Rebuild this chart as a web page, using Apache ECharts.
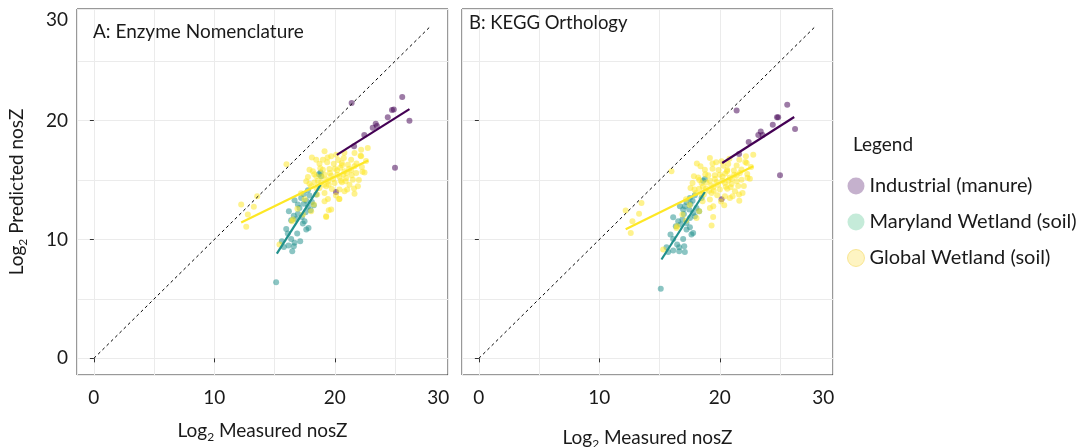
<!DOCTYPE html>
<html>
<head>
<meta charset="utf-8">
<script src="https://cdn.jsdelivr.net/npm/echarts@6/dist/echarts.min.js"></script>
<style>
  html, body { margin: 0; padding: 0; background: #ffffff; }
  #chart { width: 1076px; height: 447px; }
</style>
</head>
<body>
<div id="chart"></div>
<script>
// ---- Data: log2 measured vs predicted nosZ, two annotation schemes ----
const seriesNames = ['Industrial (manure)', 'Maryland Wetland (soil)', 'Global Wetland (soil)'];

// Panel A: Enzyme Nomenclature
const industrialA = [[21.4,21.5],[25.6,22.0],[24.9,20.95],[24.75,20.9],[24.4,20.3],[26.2,20.0],[23.4,19.75],[23.15,19.4],[23.5,19.55],[22.45,18.8],[21.6,17.85],[20.1,14.0],[25.0,16.05]];
const marylandA = [[18.82,15.65],[18.68,15.5],[18.87,15.32],[17.77,14.14],[17.43,13.83],[17.9,13.7],[18.46,13.78],[17.21,13.5],[17.63,13.27],[16.66,13.3],[18.1,13.16],[17.43,13.02],[16.94,12.94],[18.26,12.88],[17.77,12.74],[17.07,12.66],[17.99,12.46],[17.57,12.29],[16.19,12.38],[16.94,12.18],[16.6,12.01],[17.27,11.9],[16.38,11.62],[16.8,11.73],[17.49,11.54],[17.35,11.34],[17.82,10.98],[17.63,10.84],[15.97,10.89],[16.1,10.5],[16.88,10.5],[16.38,10.05],[17.13,9.86],[16.66,9.72],[15.61,9.86],[15.77,9.38],[16.16,9.49],[16.6,9.44],[16.47,9.02],[15.13,6.41]];
const globalA = [[12.23,12.94],[12.78,12.1],[13.28,12.75],[13.56,13.64],[12.65,11.07],[15.99,16.33],[19.28,11.96],[19.5,12.46],[22.74,17.7],[22.19,17.0],[19.15,17.42],[15.41,9.58],[20.36,13.42],
  [20.12,17.14],[21.64,17.28],[22.19,17.56],[20.75,16.86],[21.36,16.72],[22.14,17.06],[18.46,16.72],[18.73,16.38],[19.37,16.5],[19.92,16.38],[20.59,16.44],[21.09,16.3],[21.64,16.16],[22.25,16.1],[17.9,15.88],[18.18,15.74],[19.01,15.88],[19.56,15.94],[20.2,15.82],[20.81,15.74],[21.36,15.82],[21.78,15.6],[22.47,15.65],[17.77,15.26],[18.46,15.32],[19.15,15.46],[19.7,15.37],[20.39,15.26],[20.95,15.18],[21.5,15.04],[17.63,14.9],[18.32,14.81],[18.87,14.81],[19.43,14.9],[19.98,14.76],[20.59,14.81],[21.22,14.62],[21.92,14.48],[18.04,14.48],[18.73,14.34],[19.29,14.48],[19.76,14.25],[20.39,14.2],[21.03,14.2],[19.15,13.92],[18.54,13.78],[20.81,14.06],[21.64,13.86],[19.43,13.41],[20.39,13.41],[19.15,13.22],[18.26,12.94],[18.04,12.38],[19.7,12.52],[19.29,11.9],[16.52,11.68],[16.44,11.54],[17.35,12.1],[19.01,16.72],
  [19.6,15.6],[20.0,15.95],[20.45,16.05],[20.7,15.45],[19.85,15.1],[20.2,15.45],[20.5,14.95],[19.3,15.05],[21.2,15.95],[21.0,15.6],[20.6,16.25],[19.5,14.6],[18.9,15.3],[18.6,14.95],[19.1,14.6],[20.9,14.9],[21.4,15.4],[21.8,16.4],[22.0,15.0],[20.3,16.7],[19.7,17.0],[18.8,16.0],[18.3,15.5],[17.9,14.7],[18.5,14.3],[17.2,13.9],[21.6,14.3],[22.3,15.7],[20.1,13.7],[19.4,16.9],[20.8,17.3],[18.1,16.9],[22.6,16.6],[17.5,13.4],[16.9,12.6]];
const fitIndustrialA = [[20.17,17.12],[26.2,20.98]];
const fitMarylandA = [[15.19,8.82],[18.82,14.6]];
const fitGlobalA = [[12.23,11.43],[22.77,16.66]];

// Panel B: KEGG Orthology
const industrialB = [[21.4,20.85],[25.6,21.35],[24.85,20.3],[24.75,20.3],[24.4,19.65],[26.25,19.3],[23.4,19.1],[23.2,18.8],[23.55,18.8],[22.4,18.2],[21.6,17.2],[20.15,13.4],[25.0,15.4]];
const marylandB = [[18.76,15.1],[18.62,14.95],[17.93,13.72],[18.49,13.5],[17.52,13.5],[17.74,13.27],[17.24,13.16],[17.57,12.99],[16.69,12.8],[17.1,12.8],[18.07,12.66],[16.96,12.52],[17.46,12.52],[18.29,12.38],[17.79,12.24],[17.02,12.15],[17.93,11.96],[17.52,11.82],[16.13,11.87],[16.9,11.68],[16.55,11.54],[17.24,11.4],[16.35,11.12],[16.74,11.26],[17.52,11.03],[17.24,10.84],[17.79,10.56],[17.65,10.42],[15.91,10.42],[16.13,10.05],[16.96,10.05],[16.46,9.58],[17.05,9.44],[16.63,9.35],[15.58,9.35],[15.72,8.96],[16.13,9.07],[16.63,9.02],[17.1,8.96],[15.1,5.86]];
const globalB = [[12.19,12.44],[12.75,11.54],[13.3,12.16],[13.5,13.08],[12.61,10.56],[15.99,15.74],[19.45,11.9],[19.32,11.18],[22.23,16.44],[20.37,12.88],[15.3,9.16],
  [19.18,16.86],[20.15,16.58],[21.62,16.72],[22.17,17.0],[22.78,17.14],[20.7,16.36],[21.4,16.24],[22.12,16.52],[18.4,16.16],[18.76,15.88],[19.4,15.96],[19.9,15.85],[20.62,15.88],[21.17,15.8],[21.67,15.6],[22.28,15.52],[17.85,15.32],[18.21,15.23],[19.04,15.4],[19.59,15.4],[20.23,15.29],[20.84,15.23],[21.4,15.4],[21.81,15.04],[22.5,15.12],[17.74,14.76],[18.49,14.76],[19.18,14.95],[19.73,14.84],[20.43,14.76],[20.98,14.67],[21.53,14.51],[17.57,14.34],[18.29,14.28],[18.85,14.28],[19.46,14.39],[20.01,14.2],[20.62,14.28],[21.26,14.06],[21.89,13.92],[18.02,13.92],[18.68,13.78],[19.32,13.92],[19.79,13.72],[20.43,13.64],[21.06,13.64],[19.18,13.36],[18.57,13.22],[20.84,13.5],[21.62,13.27],[19.46,12.8],[19.18,12.66],[18.29,12.38],[18.07,11.82],[16.46,11.12],[16.41,10.98],[17.2,11.6],
  [19.6,15.1],[20.0,15.45],[20.45,15.55],[20.7,14.95],[19.85,14.6],[20.2,14.95],[20.5,14.45],[19.3,14.55],[21.2,15.45],[21.0,15.1],[20.6,15.75],[19.5,14.1],[18.9,14.8],[18.6,14.45],[19.1,14.1],[20.9,14.4],[21.4,14.9],[21.8,15.9],[22.0,14.5],[20.3,16.2],[19.7,16.5],[18.8,15.5],[18.3,15.0],[17.9,14.2],[18.5,13.8],[17.2,13.4],[21.6,13.8],[22.3,15.2],[20.1,13.2],[19.4,16.4],[20.8,16.8],[18.1,16.4],[22.6,16.1],[17.5,12.9],[16.9,12.1]];
const fitIndustrialB = [[20.2,16.44],[26.18,20.31]];
const fitMarylandB = [[15.16,8.32],[18.76,14.0]];
const fitGlobalB = [[12.19,10.87],[22.78,16.16]];

// 1:1 reference line
const identityLine = [[0,0],[28,28]];

// Axis ticks and labels (the top label sits just inside the panel edge)
const tickValues = [0, 10, 20];
const xLabelValues = [0, 10, 20, 28.6];
const yLabelValues = [0, 10, 20, 28.5];
const tickLabels = ['0', '10', '20', '30'];
const axisMin = -1.4, axisMax = 29.4;

// ---- Styling ----
const FONT = 'Lato';
const TEXT = '#1a1a1a';
const pointColors = ['#440154', '#21908C', '#FDE725'];
const legendColors = ['#8f6a9f', '#8fd8b6', '#fde98a'];

const chart = echarts.init(document.getElementById('chart'), null, { renderer: 'canvas' });

const subRich = {
  n: { fontSize: 19, fontFamily: FONT, color: TEXT, lineHeight: 24 },
  s: { fontSize: 12, fontFamily: FONT, color: TEXT, lineHeight: 13, verticalAlign: 'bottom' }
};

// Invisible axis that only carries the 5-unit grid lines
function gridAxis(gridIndex, position) {
  return {
    type: 'value', gridIndex, position, min: axisMin, max: axisMax, minInterval: 5, maxInterval: 5,
    axisLine: { show: false }, axisTick: { show: false }, axisLabel: { show: false },
    splitLine: { show: true, lineStyle: { color: '#ebebeb', width: 1 } }
  };
}
// Visible axis with ticks, labels and title
function labelAxis(gridIndex, position, labelValues, showLabels, name, nameGap, margin) {
  return {
    type: 'value', gridIndex, position, min: axisMin, max: axisMax,
    axisLine: { show: false }, splitLine: { show: false },
    axisTick: { show: true, customValues: tickValues, length: 4, lineStyle: { color: '#333333' } },
    axisLabel: {
      show: showLabels, customValues: labelValues, margin: margin,
      fontFamily: FONT, fontSize: 19, color: TEXT,
      formatter: (v) => tickLabels[labelValues.indexOf(v)]
    },
    name: name, nameLocation: 'middle', nameGap: nameGap,
    nameTextStyle: { rich: subRich }
  };
}

function scatter(name, data, ci, ai) {
  return { type: 'scatter', name, data, xAxisIndex: ai, yAxisIndex: ai, symbolSize: 6,
    itemStyle: { color: pointColors[ci], opacity: 0.52 }, z: 2, silent: true };
}
function fitLine(name, data, ci, ai) {
  return { type: 'line', name, data, xAxisIndex: ai, yAxisIndex: ai, symbol: 'none',
    lineStyle: { color: pointColors[ci], width: 2.2 }, z: 4, silent: true };
}
function refLine(ai) {
  return { type: 'line', name: 'y = x', data: identityLine, xAxisIndex: ai, yAxisIndex: ai, symbol: 'none',
    lineStyle: { color: '#000000', width: 1, type: [3, 3] }, z: 3, silent: true };
}

const gridBase = { top: 9, width: 371, height: 366, show: true, borderColor: '#333333', borderWidth: 1,
  backgroundColor: '#ffffff', outerBoundsMode: 'none', containLabel: false };

const option = {
  backgroundColor: '#ffffff',
  animation: false,
  title: [
    { text: 'A: Enzyme Nomenclature', left: 88, top: 17, textStyle: { fontFamily: FONT, fontSize: 19, fontWeight: 'normal', color: TEXT } },
    { text: 'B: KEGG Orthology', left: 464, top: 9, textStyle: { fontFamily: FONT, fontSize: 18.5, fontWeight: 'normal', color: TEXT } },
    { text: 'Legend', left: 848, top: 130, textStyle: { fontFamily: FONT, fontSize: 19, fontWeight: 'normal', color: TEXT } }
  ],
  legend: {
    data: seriesNames.map((n, i) => ({
      name: n,
      itemStyle: i === 2 ? { color: legendColors[i], borderColor: '#f2d34f', borderWidth: 1 } : { color: legendColors[i] }
    })),
    orient: 'vertical', left: 842, top: 171, icon: 'circle', itemWidth: 17, itemHeight: 17, itemGap: 16, itemTextGap: 6,
    textStyle: { fontFamily: FONT, fontSize: 20, color: TEXT }, selectedMode: false
  },
  grid: [
    Object.assign({ left: 77 }, gridBase),
    Object.assign({ left: 462 }, gridBase)
  ],
  xAxis: [
    gridAxis(0, 'top'),
    labelAxis(0, 'bottom', xLabelValues, true, '{n|Log}{s|2}{n| Measured nosZ}', 44, 13),
    gridAxis(1, 'top'),
    labelAxis(1, 'bottom', xLabelValues, true, '{n|Log}{s|2}{n| Measured nosZ}', 51, 13)
  ],
  yAxis: [
    gridAxis(0, 'right'),
    labelAxis(0, 'left', yLabelValues, true, '{n|Log}{s|2}{n| Predicted nosZ}', 48, 9),
    gridAxis(1, 'right'),
    labelAxis(1, 'left', yLabelValues, false, '', 30, 9)
  ],
  series: [
    scatter(seriesNames[0], industrialA, 0, 1),
    scatter(seriesNames[1], marylandA, 1, 1),
    scatter(seriesNames[2], globalA, 2, 1),
    refLine(1),
    fitLine('Industrial fit A', fitIndustrialA, 0, 1),
    fitLine('Maryland fit A', fitMarylandA, 1, 1),
    fitLine('Global fit A', fitGlobalA, 2, 1),
    scatter(seriesNames[0], industrialB, 0, 3),
    scatter(seriesNames[1], marylandB, 1, 3),
    scatter(seriesNames[2], globalB, 2, 3),
    refLine(3),
    fitLine('Industrial fit B', fitIndustrialB, 0, 3),
    fitLine('Maryland fit B', fitMarylandB, 1, 3),
    fitLine('Global fit B', fitGlobalB, 2, 3)
  ]
};

chart.setOption(option);
</script>
</body>
</html>
